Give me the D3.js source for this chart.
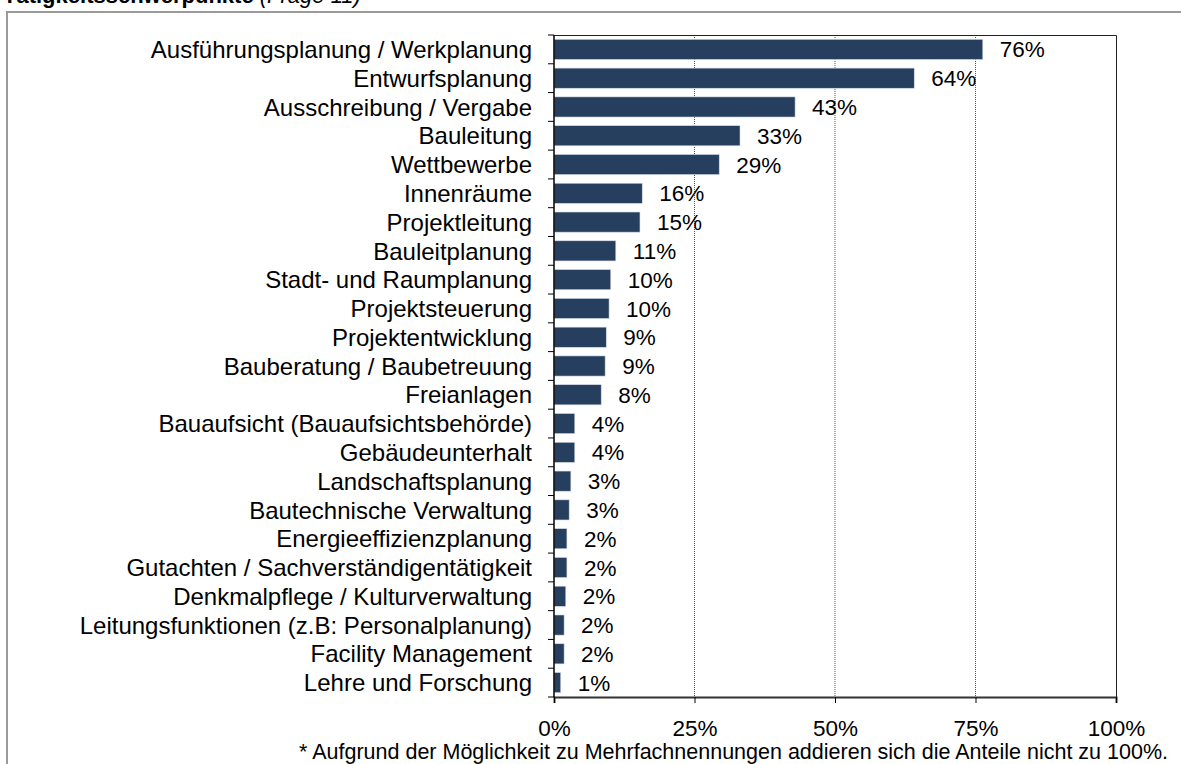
<!DOCTYPE html>
<html>
<head>
<meta charset="utf-8">
<script src="https://cdn.jsdelivr.net/npm/d3@7"></script>
<style>
  body { margin: 0; background: #fff; }
  svg { display: block; font-family: "Liberation Sans", Arial, sans-serif; }
</style>
</head>
<body>
<div id="chart"></div>
<script>
var categories = [
  "Ausführungsplanung / Werkplanung", "Entwurfsplanung", "Ausschreibung / Vergabe",
  "Bauleitung", "Wettbewerbe", "Innenräume", "Projektleitung", "Bauleitplanung",
  "Stadt- und Raumplanung", "Projektsteuerung", "Projektentwicklung",
  "Bauberatung / Baubetreuung", "Freianlagen", "Bauaufsicht (Bauaufsichtsbehörde)",
  "Gebäudeunterhalt", "Landschaftsplanung", "Bautechnische Verwaltung",
  "Energieeffizienzplanung", "Gutachten / Sachverständigentätigkeit",
  "Denkmalpflege / Kulturverwaltung", "Leitungsfunktionen (z.B: Personalplanung)",
  "Facility Management", "Lehre und Forschung"
];
var shares = [76.3, 64.1, 42.9, 33.1, 29.4, 15.7, 15.3, 11.0, 10.1, 9.8, 9.3, 9.1, 8.4,
              3.7, 3.7, 3.0, 2.7, 2.3, 2.3, 2.1, 1.8, 1.8, 1.2];
var labels = ["76%", "64%", "43%", "33%", "29%", "16%", "15%", "11%", "10%", "10%", "9%", "9%", "8%",
              "4%", "4%", "3%", "3%", "2%", "2%", "2%", "2%", "2%", "1%"];
var xTicks = [0, 25, 50, 75, 100];

var width = 1181, height = 764;
var margin = {top: 35, right: 65, bottom: 67, left: 554};
var fontSize = 22.5;

var svg = d3.select("#chart").append("svg")
    .attr("width", width)
    .attr("height", height);

// outer frame + cut-off title
svg.append("rect")
    .attr("x", 7).attr("y", 12)
    .attr("width", 1200).attr("height", 800)
    .attr("fill", "none")
    .attr("stroke", "#9a9a9a")
    .attr("stroke-width", 2);

var title = svg.append("text")
    .attr("x", 3).attr("y", 3)
    .attr("font-size", 22)
    .attr("fill", "#000");
title.append("tspan").attr("font-weight", "bold").text("Tätigkeitsschwerpunkte");
title.append("tspan").attr("font-style", "italic").text(" (Frage 11)");

var x = d3.scaleLinear().domain([0, 100]).range([margin.left, width - margin.right]);
var y = d3.scaleBand().domain(categories)
    .range([margin.top, height - margin.bottom])
    .paddingInner(0.3).paddingOuter(0.15);

var g = svg.append("g");

// gridlines
g.selectAll(".grid")
    .data([25, 50, 75])
    .enter().append("line")
    .attr("x1", function (d) { return x(d); })
    .attr("x2", function (d) { return x(d); })
    .attr("y1", margin.top)
    .attr("y2", height - margin.bottom)
    .attr("stroke", "#555")
    .attr("stroke-width", 1)
    .attr("stroke-dasharray", "1,1");

// plot border top / right
g.append("path")
    .attr("d", "M" + x(0) + "," + (margin.top + 0.5) + "H" + (x(100) + 0.5) +
        "V" + (height - margin.bottom))
    .attr("fill", "none")
    .attr("stroke", "#222")
    .attr("stroke-width", 1);

// bars
g.selectAll(".bar")
    .data(categories)
    .enter().append("rect")
    .attr("x", x(0))
    .attr("y", function (d) { return y(d); })
    .attr("width", function (d, i) { return x(shares[i]) - x(0); })
    .attr("height", y.bandwidth())
    .attr("fill", "#263f5f")
    .attr("stroke", "#d4dbe6")
    .attr("stroke-width", 0.6);

// value labels
g.selectAll(".val")
    .data(categories)
    .enter().append("text")
    .attr("x", function (d, i) { return x(shares[i]) + 17; })
    .attr("y", function (d) { return y(d) + y.bandwidth() / 2; })
    .attr("dy", "0.36em")
    .attr("font-size", fontSize)
    .attr("fill", "#000")
    .text(function (d, i) { return labels[i]; });

// x axis
var xAxis = d3.axisBottom(x)
    .tickValues(xTicks)
    .tickSize(6)
    .tickPadding(17)
    .tickFormat(function (d) { return d + "%"; });
var xg = svg.append("g")
    .attr("transform", "translate(0," + (height - margin.bottom) + ")")
    .call(xAxis);
xg.select(".domain").attr("stroke", "#333").attr("stroke-width", 2);
xg.selectAll(".tick line").attr("stroke", "#000");
xg.selectAll("text").attr("font-size", fontSize).attr("fill", "#000")
    .attr("font-family", "Liberation Sans, Arial, sans-serif");

// y axis: ticks between categories
var step = y.step();
var yAxis = d3.axisLeft(y).tickSize(0).tickPadding(22);
var yg = svg.append("g")
    .attr("transform", "translate(" + x(0) + ",0)")
    .call(yAxis);
yg.select(".domain").remove();
yg.selectAll("text").attr("font-size", 24).attr("fill", "#000")
    .attr("dy", "0.36em")
    .attr("font-family", "Liberation Sans, Arial, sans-serif");
var bounds = d3.range(categories.length + 1).map(function (i) { return margin.top + i * step; });
yg.selectAll(".ytick")
    .data(bounds)
    .enter().append("line")
    .attr("x1", -6).attr("x2", 0)
    .attr("y1", function (d) { return d; })
    .attr("y2", function (d) { return d; })
    .attr("stroke", "#000");
yg.append("line")
    .attr("x1", 0).attr("x2", 0)
    .attr("y1", margin.top).attr("y2", height - margin.bottom)
    .attr("stroke", "#000").attr("stroke-width", 1.5);

// footnote
svg.append("text")
    .attr("x", 1168).attr("y", 759)
    .attr("text-anchor", "end")
    .attr("font-size", 21.5)
    .attr("fill", "#000")
    .text("* Aufgrund der Möglichkeit zu Mehrfachnennungen addieren sich die Anteile nicht zu 100%.");
</script>
</body>
</html>
